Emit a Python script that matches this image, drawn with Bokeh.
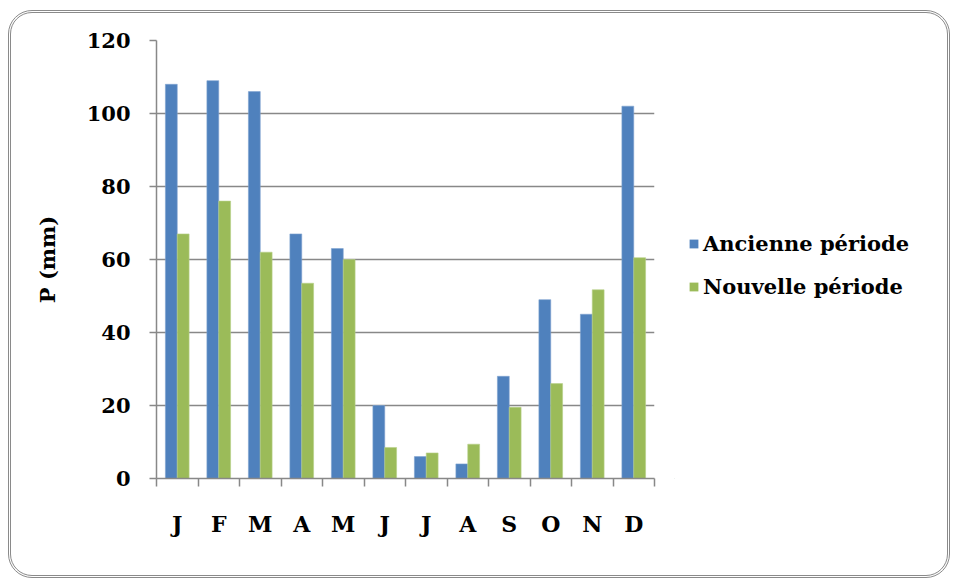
from bokeh.plotting import figure
from bokeh.layouts import row
from bokeh.models import Range1d, FixedTicker, Legend, LegendItem, ColumnDataSource
from bokeh.transform import dodge
from bokeh.embed import file_html
from bokeh.resources import INLINE

# Monthly precipitation (mm)
months = ["J", "F", "M", "A", "M", "J", "J", "A", "S", "O", "N", "D"]
ancienne = [108, 109, 106, 67, 63, 20, 6, 4, 28, 49, 45, 102]
nouvelle = [67, 76, 62, 53.5, 60, 8.5, 7, 9.4, 19.5, 26, 51.7, 60.5]
y_ticks = [0, 20, 40, 60, 80, 100, 120]
series_names = ["Ancienne période", "Nouvelle période"]

BLUE = "#4F81BD"
GREEN = "#9BBB59"
GRID = "#888888"
FONT = "DejaVu Serif"

pos = [i + 0.5 for i in range(len(months))]
src = ColumnDataSource(dict(x=pos, anc=ancienne, nouv=nouvelle))

p = figure(width=663, height=562, output_backend="svg", toolbar_location=None,
           x_range=Range1d(0, 12), y_range=Range1d(0, 120),
           min_border_left=145, min_border_right=20,
           min_border_top=27, min_border_bottom=97)
p.outline_line_color = None
p.background_fill_alpha = 0
p.border_fill_alpha = 0

bw = 1 / 3.5
p.vbar(x=dodge("x", -bw / 2, range=p.x_range), top="anc", width=bw, source=src,
       fill_color=BLUE, line_color="#7FA3D0", line_width=0.6)
p.vbar(x=dodge("x", bw / 2, range=p.x_range), top="nouv", width=bw, source=src,
       fill_color=GREEN, line_color="#B7D08A", line_width=0.6)

# x axis: letters at category centres, tick marks between categories
p.xaxis.ticker = FixedTicker(ticks=pos, minor_ticks=list(range(13)))
p.xaxis.major_label_overrides = {v: m for v, m in zip(pos, months)}
p.xaxis.major_tick_line_color = None
p.xaxis.minor_tick_line_color = GRID
p.xaxis.minor_tick_line_width = 1.5
p.xaxis.minor_tick_out = 8
p.xaxis.minor_tick_in = 0
p.xaxis.axis_line_color = GRID
p.xaxis.axis_line_width = 1.5
p.xaxis.major_label_text_font = FONT
p.xaxis.major_label_text_font_style = "bold"
p.xaxis.major_label_text_font_size = "22px"
p.xaxis.major_label_text_color = "black"
p.xaxis.major_label_standoff = 24

# y axis
p.yaxis.ticker = FixedTicker(ticks=y_ticks, minor_ticks=[])
p.yaxis.axis_line_color = GRID
p.yaxis.axis_line_width = 1.5
p.yaxis.major_tick_line_color = GRID
p.yaxis.major_tick_line_width = 1.5
p.yaxis.major_tick_out = 7
p.yaxis.major_tick_in = 0
p.yaxis.major_label_text_font = FONT
p.yaxis.major_label_text_font_style = "bold"
p.yaxis.major_label_text_font_size = "21px"
p.yaxis.major_label_text_color = "black"
p.yaxis.major_label_standoff = 19
p.yaxis.axis_label = "P (mm)"
p.yaxis.axis_label_text_font = FONT
p.yaxis.axis_label_text_font_style = "bold"
p.yaxis.axis_label_text_font_size = "21px"
p.yaxis.axis_label_text_color = "black"
p.yaxis.axis_label_standoff = 24

p.xgrid.grid_line_color = None
p.ygrid.grid_line_color = GRID
p.ygrid.grid_line_width = 1.5

# legend panel beside the chart (key renderers sit outside its visible range)
lg = figure(width=273, height=562, output_backend="svg", toolbar_location=None,
            x_range=Range1d(0, 1), y_range=Range1d(0, 1),
            min_border=0)
lg.outline_line_color = None
lg.background_fill_alpha = 0
lg.border_fill_alpha = 0
lg.axis.visible = False
lg.grid.grid_line_color = None
keys = ColumnDataSource(dict(x=[-5], top=[-5]))
k1 = lg.vbar(x="x", top="top", width=0.1, source=keys, fill_color=BLUE, line_color=None)
k2 = lg.vbar(x="x", top="top", width=0.1, source=keys, fill_color=GREEN, line_color=None)
legend = Legend(items=[LegendItem(label=series_names[0], renderers=[k1]),
                       LegendItem(label=series_names[1], renderers=[k2])],
                location=(14, 179), orientation="vertical",
                glyph_width=11, glyph_height=11, spacing=18, padding=0, margin=0,
                label_text_font=FONT, label_text_font_style="bold",
                label_text_font_size="21px", label_text_color="black",
                label_standoff=4,
                border_line_color=None, background_fill_alpha=0)
lg.add_layout(legend, "center")

# rounded frame around chart and legend
root = row(p, lg, stylesheets=[":host { border: 3px double #8a8a8a; "
                               "border-radius: 24px; margin: 10px 0 0 8px; }"])

open("out.html", "w").write(file_html(root, INLINE))
